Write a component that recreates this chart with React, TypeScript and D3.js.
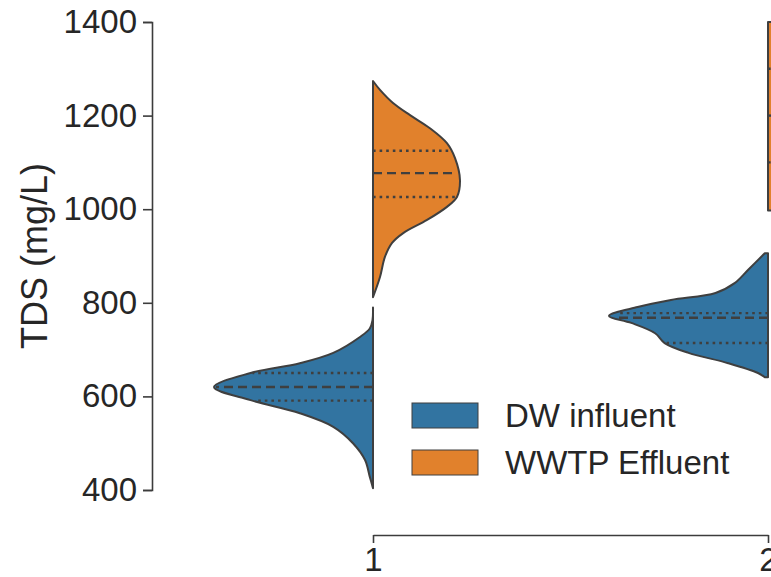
import { useEffect, useRef } from "react";
import * as d3 from "d3";

const WIDTH = 771;
const HEIGHT = 577;

const TEXT_FILL = "#262626";
const AXIS_STROKE = "#3c3c3c";
const EDGE_STROKE = "#3f3f3f";
const FONT = "'Liberation Sans', Arial, sans-serif";

const CATEGORIES = ["1", "2"];
const SERIES = ["DW influent", "WWTP Effluent"];
const SERIES_COLORS = ["#3274a1", "#e1812c"];
const Y_TICKS = [400, 600, 800, 1000, 1200, 1400];

// density profiles, [TDS value, relative half width]
const DW_1: [number, number][] = [
  [404, 0], [428, 0.02], [464, 0.05], [500, 0.126], [535, 0.25], [564, 0.46],
  [592, 0.77], [620, 1.0], [650, 0.77], [671, 0.46], [693, 0.25], [727, 0.082],
  [745, 0.02], [763, 0.003], [790, 0],
];
const WWTP_1: [number, number][] = [
  [812, 0.0], [855, 0.044], [898, 0.075], [928, 0.12], [949, 0.19], [977, 0.34],
  [1005, 0.465], [1026, 0.528], [1062, 0.547], [1109, 0.516], [1141, 0.465],
  [1173, 0.358], [1201, 0.233], [1227, 0.126], [1255, 0.044], [1274, 0],
];
const DW_2: [number, number][] = [
  [641, 0.02], [650, 0.063], [671, 0.25], [693, 0.5], [714, 0.65], [735, 0.71],
  [757, 0.86], [772, 1.0], [791, 0.82], [806, 0.61], [821, 0.33], [842, 0.21],
  [870, 0.126], [906, 0.02],
];
const WWTP_2: [number, number][] = [
  [997, 0.03], [1050, 0.3], [1100, 0.5], [1200, 0.6], [1300, 0.5], [1400, 0.35],
];

// [q1, median, q3]
const DW_1_QUART = [591, 620, 650];
const WWTP_1_QUART = [1026, 1077, 1125];
const DW_2_QUART = [714, 768, 778];
const WWTP_2_QUART = [1100, 1200, 1300];

const VIOLINS = [
  { cat: "1", series: 0, profile: DW_1, quart: DW_1_QUART },
  { cat: "1", series: 1, profile: WWTP_1, quart: WWTP_1_QUART },
  { cat: "2", series: 0, profile: DW_2, quart: DW_2_QUART },
  { cat: "2", series: 1, profile: WWTP_2, quart: WWTP_2_QUART },
];

function widthAt(profile: [number, number][], v: number) {
  for (let i = 1; i < profile.length; i++) {
    const [a, wa] = profile[i - 1];
    const [b, wb] = profile[i];
    if (v >= a && v <= b) return wa + ((wb - wa) * (v - a)) / (b - a);
  }
  return 0;
}

export default function App() {
  const ref = useRef<SVGSVGElement>(null);

  useEffect(() => {
    const svg = d3.select(ref.current);
    svg.selectAll("*").remove();

    const y = d3.scaleLinear().domain([400, 1400]).range([490, 22]);
    const x = d3.scalePoint().domain(CATEGORIES).range([373, 768]);
    const w = d3.scaleLinear().domain([0, 1]).range([0, 159]);

    const g = svg.append("g");

    VIOLINS.forEach((v) => {
      const cx = x(v.cat) as number;
      const side = v.series === 0 ? -1 : 1;
      const area = d3
        .area<[number, number]>()
        .y((d) => y(d[0]))
        .x0(cx)
        .x1((d) => cx + side * w(d[1]))
        .curve(d3.curveCatmullRom.alpha(0.5));

      g.append("path")
        .attr("d", area(v.profile))
        .attr("fill", SERIES_COLORS[v.series])
        .attr("stroke", EDGE_STROKE)
        .attr("stroke-width", 2)
        .attr("stroke-linejoin", "round");

      v.quart.forEach((q, i) => {
        const half = w(widthAt(v.profile, q)) - 2;
        g.append("line")
          .attr("x1", cx)
          .attr("x2", cx + side * half)
          .attr("y1", y(q))
          .attr("y2", y(q))
          .attr("stroke", EDGE_STROKE)
          .attr("stroke-width", 2.4)
          .attr("stroke-dasharray", i === 1 ? "9,5" : "2.6,4");
      });
    });

    // y axis
    const yAxis = d3
      .axisLeft(y)
      .tickValues(Y_TICKS)
      .tickFormat(d3.format("d"))
      .tickSize(9)
      .tickPadding(6);
    svg
      .append("g")
      .attr("transform", "translate(152,0)")
      .call(yAxis)
      .call((ga) => ga.select(".domain").attr("stroke", AXIS_STROKE).attr("stroke-width", 1.6))
      .call((ga) => ga.selectAll(".tick line").attr("stroke", AXIS_STROKE).attr("stroke-width", 1.6))
      .call((ga) =>
        ga
          .selectAll("text")
          .attr("fill", TEXT_FILL)
          .attr("font-family", FONT)
          .attr("font-size", 33)
      );

    // x axis, offset below
    const xAxis = d3.axisBottom(x).tickSize(8).tickPadding(5).tickSizeOuter(0);
    svg
      .append("g")
      .attr("transform", "translate(0,535)")
      .call(xAxis)
      .call((ga) => ga.select(".domain").attr("stroke", AXIS_STROKE).attr("stroke-width", 1.6))
      .call((ga) => ga.selectAll(".tick line").attr("stroke", AXIS_STROKE).attr("stroke-width", 1.6))
      .call((ga) =>
        ga
          .selectAll("text")
          .attr("fill", TEXT_FILL)
          .attr("font-family", FONT)
          .attr("font-size", 33)
      );

    svg
      .append("text")
      .attr("transform", "translate(47,256) rotate(-90)")
      .attr("text-anchor", "middle")
      .attr("fill", TEXT_FILL)
      .attr("font-family", FONT)
      .attr("font-size", 36)
      .text("TDS (mg/L)");

    // legend
    const legend = svg.append("g").attr("transform", "translate(412,403)");
    SERIES.forEach((s, i) => {
      const row = legend.append("g").attr("transform", `translate(0,${i * 47})`);
      row
        .append("rect")
        .attr("width", 66)
        .attr("height", 25)
        .attr("fill", SERIES_COLORS[i])
        .attr("stroke", EDGE_STROKE)
        .attr("stroke-width", 1);
      row
        .append("text")
        .attr("x", 93)
        .attr("y", 12.5)
        .attr("dy", "0.35em")
        .attr("fill", TEXT_FILL)
        .attr("font-family", FONT)
        .attr("font-size", 33)
        .text(s);
    });
  }, []);

  return (
    <svg
      ref={ref}
      width={WIDTH}
      height={HEIGHT}
      style={{ position: "absolute", left: 0, top: 0, background: "#fff" }}
    />
  );
}
